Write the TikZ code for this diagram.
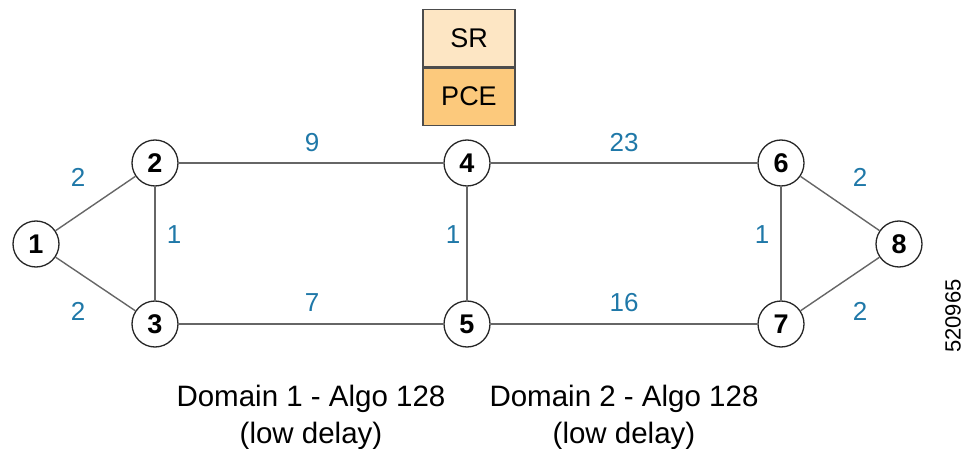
\documentclass[tikz,border=0pt]{standalone}
\usepackage{fontspec}
\setmainfont{Liberation Sans}
\definecolor{lblue}{HTML}{1F78A8}
\definecolor{edgec}{HTML}{666666}
\definecolor{srfill}{HTML}{FDE6C4}
\definecolor{pcefill}{HTML}{FCC97C}
\begin{document}
\begin{tikzpicture}[x=1pt,y=-1pt,
  rnode/.style={circle,draw=black!85,line width=1.3pt,fill=white,minimum size=46pt,inner sep=0pt,font=\fontsize{27}{27}\selectfont\bfseries},
  link/.style={draw=edgec,line width=1.4pt},
  wt/.style={text=lblue,font=\fontsize{26}{26}\selectfont,inner sep=0pt},
  boxc/.style={draw=black!70,line width=1.2pt,minimum width=92pt,minimum height=57.5pt,inner sep=0pt,font=\fontsize{27}{27}\selectfont},
  dtext/.style={align=center,font=\fontsize{29.5}{37}\selectfont,inner sep=0pt}]
\useasboundingbox (0,0) rectangle (964,449);
\node[boxc,fill=srfill] (sr) at (469,38) {SR};
\node[boxc,fill=pcefill,anchor=north] (pce) at (sr.south) {PCE};
\node[rnode] (n1) at (36,244) {1};
\node[rnode] (n2) at (155,163) {2};
\node[rnode] (n3) at (155,324) {3};
\node[rnode] (n4) at (467,163) {4};
\node[rnode] (n5) at (467,324) {5};
\node[rnode] (n6) at (781,163) {6};
\node[rnode] (n7) at (781,324) {7};
\node[rnode] (n8) at (899,244) {8};
\draw[link] (n1) -- (n2);
\draw[link] (n1) -- (n3);
\draw[link] (n2) -- (n3);
\draw[link] (n2) -- (n4);
\draw[link] (n3) -- (n5);
\draw[link] (n4) -- (n5);
\draw[link] (n4) -- (n6);
\draw[link] (n5) -- (n7);
\draw[link] (n6) -- (n7);
\draw[link] (n6) -- (n8);
\draw[link] (n7) -- (n8);
\node[wt] (w12) at (78,177) {2};
\node[wt] (w13) at (78,311) {2};
\node[wt] (w23) at (174,235) {1};
\node[wt] (w24) at (312,143) {9};
\node[wt] (w35) at (312,303) {7};
\node[wt] (w45) at (453,235) {1};
\node[wt] (w46) at (624,143) {23};
\node[wt] (w57) at (624,303) {16};
\node[wt] (w67) at (762,235) {1};
\node[wt] (w68) at (860,177) {2};
\node[wt] (w78) at (860,311) {2};
\node[dtext] (d1) at (311,417) {Domain 1 - Algo 128\\(low delay)};
\node[dtext] (d2) at (624,417) {Domain 2 - Algo 128\\(low delay)};
\node[rotate=90,font=\fontsize{22}{22}\selectfont,inner sep=0pt] (id) at (953,316) {520965};
\end{tikzpicture}
\end{document}
